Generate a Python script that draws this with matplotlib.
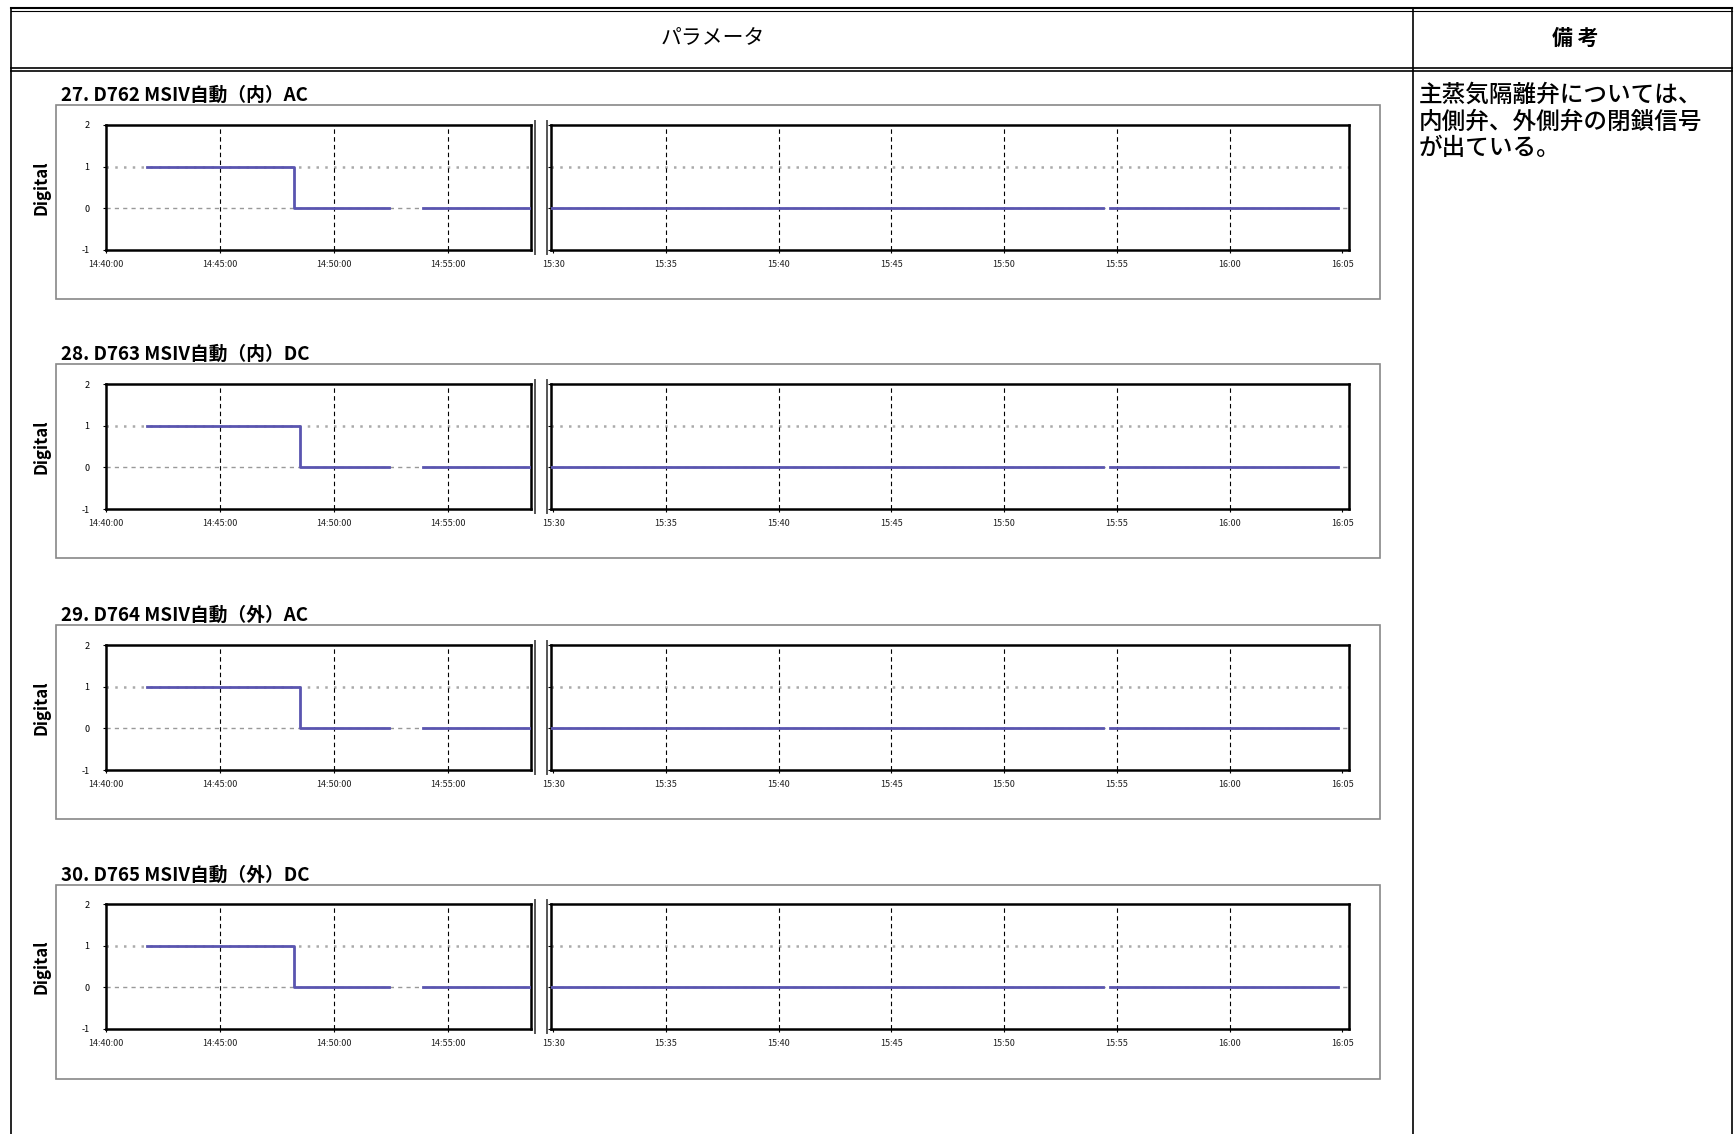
import numpy as np
import matplotlib
matplotlib.use("Agg")
import matplotlib.pyplot as plt
from matplotlib.lines import Line2D
from matplotlib.patches import Rectangle

plt.rcParams['font.family'] = ['Noto Sans CJK JP', 'DejaVu Sans']

W, H = 1734, 1134

# data: time in minutes after 14:40:00, nan = gap in record
titles = ["27. D762 MSIV自動（内）AC", "28. D763 MSIV自動（内）DC",
          "29. D764 MSIV自動（外）AC", "30. D765 MSIV自動（外）DC"]
drop_times = [8.25, 8.5, 8.5, 8.25]
start_time = 1.8
gap1 = (12.4, 13.9)
gap2 = (74.4, 74.7)
end_time = 84.8

left_ticks = [0, 5, 10, 15]
left_labels = ["14:40:00", "14:45:00", "14:50:00", "14:55:00"]
right_ticks = [50, 55, 60, 65, 70, 75, 80, 85]
right_labels = ["15:30", "15:35", "15:40", "15:45", "15:50", "15:55", "16:00", "16:05"]
y_ticks = [-1, 0, 1, 2]

remark = "主蒸気隔離弁については、\n内側弁、外側弁の閉鎖信号\nが出ている。"

line_color = '#5a55b0'


def fx(x):
    return x / W


def fy(y):
    return 1 - y / H


def fig_line(fig, x0, y0, x1, y1, lw=1.0, color='black'):
    fig.add_artist(Line2D([fx(x0), fx(x1)], [fy(y0), fy(y1)], transform=fig.transFigure,
                          color=color, linewidth=lw))


def series(drop):
    t = [start_time, drop, drop, gap1[0], np.nan, gap1[1], 50.0 - 1, gap2[0], np.nan, gap2[1], end_time]
    v = [1, 1, 0, 0, np.nan, 0, 0, 0, np.nan, 0, 0]
    return np.array(t), np.array(v, dtype=float)


def style_axes(ax, xlim, ticks, labels, show_y):
    ax.set_xlim(*xlim)
    ax.set_ylim(-1, 2)
    ax.set_xticks(ticks)
    ax.set_xticklabels(labels, fontsize=6.5, color='#222222')
    ax.set_yticks(y_ticks)
    if show_y:
        ax.set_yticklabels([str(v) for v in y_ticks], fontsize=6.5)
    else:
        ax.set_yticklabels([])
        ax.tick_params(axis='y', length=0)
    ax.tick_params(axis='x', length=2, pad=5)
    ax.tick_params(axis='y', length=2, pad=10)
    for s in ax.spines.values():
        s.set_linewidth(1.8)
    ax.axhline(1, color='#aaaaaa', lw=1.8, ls=(0, (1, 2.5)), zorder=1)
    ax.axhline(0, color='#999999', lw=1.0, ls=(0, (3, 3)), zorder=1)
    for t in ticks:
        if xlim[0] + 0.5 < t < xlim[1] - 0.5:
            ax.axvline(t, color='black', lw=0.8, ls=(0, (4, 3)), zorder=1)


fig = plt.figure(figsize=(W / 100, H / 100), dpi=100)

# table frame
fig_line(fig, 11, 8, 1732, 8, lw=1.5)
fig_line(fig, 11, 11, 1732, 11, lw=0.8)
fig_line(fig, 11, 68, 1732, 68, lw=1.2)
fig_line(fig, 11, 71, 1732, 71, lw=1.2)
fig_line(fig, 11, 8, 11, 1134, lw=1.2)
fig_line(fig, 1732, 8, 1732, 1134, lw=1.2)
fig_line(fig, 1413, 8, 1413, 1134, lw=1.2)
fig.text(fx(713), fy(38), "パラメータ", ha='center', va='center', fontsize=15)
fig.text(fx(1575), fy(38), "備 考", ha='center', va='center', fontsize=15, fontweight='bold')
fig.text(fx(1419), fy(84), remark, ha='left', va='top', fontsize=17, linespacing=1.2,
         fontweight='medium')

ax_top = [125, 384, 645, 904]
box_top = [105, 364, 625, 885]
ax_h = 125
lx0, lx1, rx0, rx1 = 106, 531, 551, 1349

for i, title in enumerate(titles):
    y0 = ax_top[i]
    fig.add_artist(Rectangle((fx(56), fy(box_top[i] + 194)), (1380 - 56) / W, 194 / H,
                             transform=fig.transFigure, fill=False, edgecolor='#888888', lw=1.2))
    fig.text(fx(61), fy(box_top[i] - 10), title, ha='left', va='center', fontsize=13.5,
             fontweight='bold')
    fig.text(fx(42), fy(y0 + ax_h / 2), "Digital", rotation=90, ha='center', va='center',
             fontsize=12, fontweight='bold')

    t, v = series(drop_times[i])
    axl = fig.add_axes([fx(lx0), fy(y0 + ax_h), (lx1 - lx0) / W, ax_h / H])
    axr = fig.add_axes([fx(rx0), fy(y0 + ax_h), (rx1 - rx0) / W, ax_h / H])
    for ax in (axl, axr):
        ax.plot(t, v, color=line_color, lw=2.0, zorder=3)
    style_axes(axl, (0, 18.64), left_ticks, left_labels, True)
    style_axes(axr, (49.9, 85.3), right_ticks, right_labels, False)
    # break marks: double lines
    fig_line(fig, lx1 + 4, y0 - 4, lx1 + 4, y0 + ax_h + 4, lw=1.4, color='#555555')
    fig_line(fig, rx0 - 4, y0 - 4, rx0 - 4, y0 + ax_h + 4, lw=1.4, color='#555555')

fig.savefig("out.png", dpi=100)
